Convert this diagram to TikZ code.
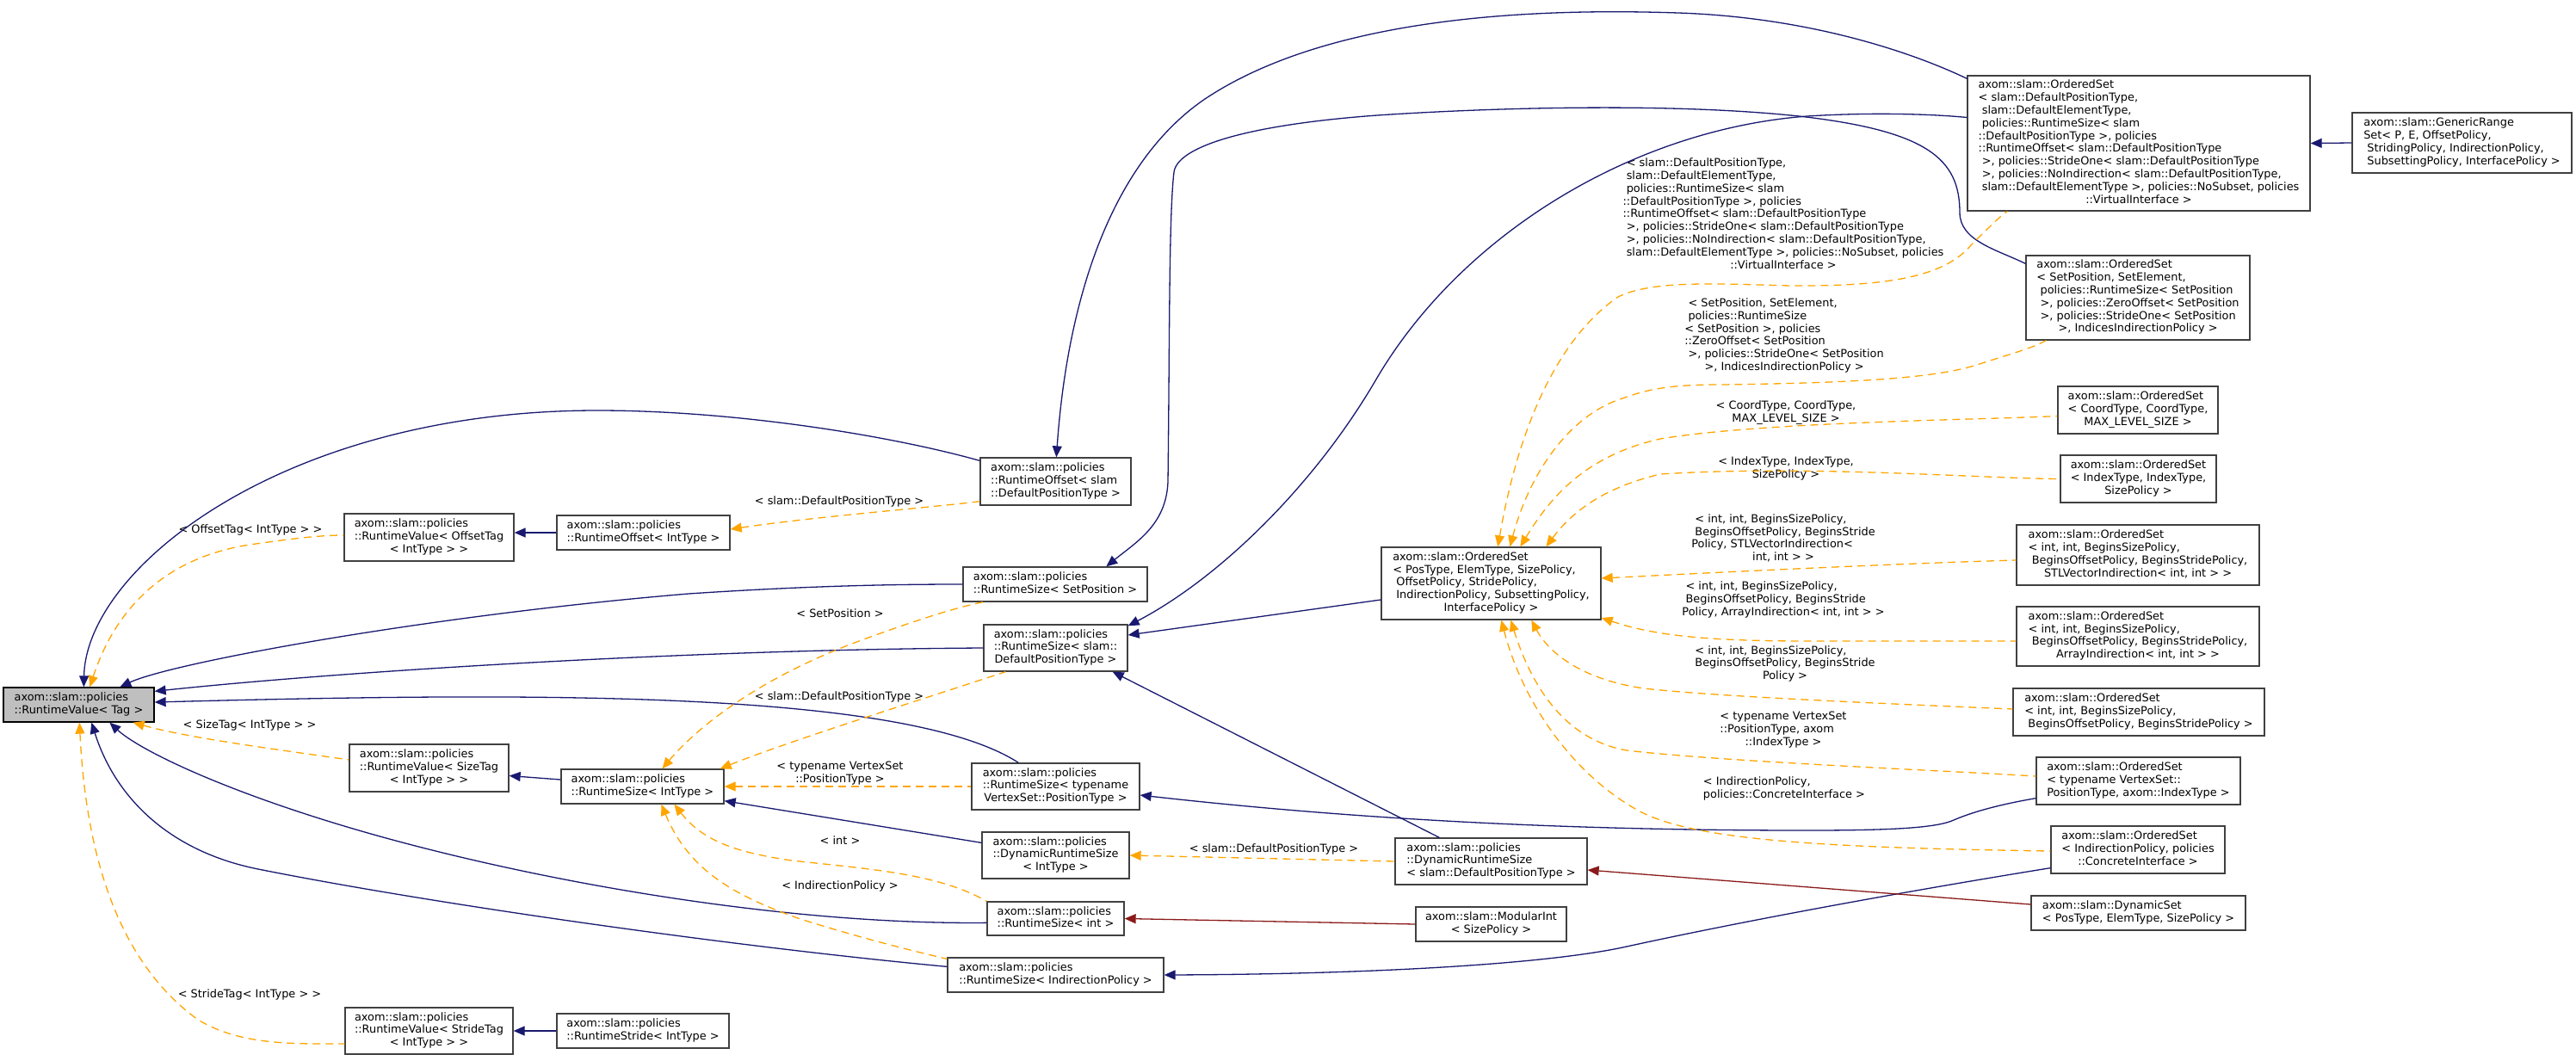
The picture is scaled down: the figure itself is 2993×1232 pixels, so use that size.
\documentclass[tikz,border=0pt]{standalone}
\usepackage{fontspec}
\setmainfont{DejaVu Sans}
\usetikzlibrary{arrows.meta,calc}
\definecolor{pubblue}{HTML}{191970}
\definecolor{tmplorange}{HTML}{FFA500}
\definecolor{protred}{HTML}{8B1A1A}
\definecolor{focusgray}{HTML}{BFBFBF}
\definecolor{nodeborder}{HTML}{404040}
\newcommand{\dvfont}{\fontsize{12.9pt}{14.8pt}\selectfont}
\newcommand{\gvtext}[2]{\begin{tabular}{@{}l@{}}#1\multicolumn{1}{@{}c@{}}{#2}\end{tabular}}
\newcommand{\lsp}{\hspace*{0.32em}}
\begin{document}
\begin{tikzpicture}[x=1pt,y=-1pt,
  cls/.style={draw=nodeborder, line width=1.3pt, fill=white, inner sep=0pt, font=\dvfont},
  focus/.style={cls, draw=black, fill=focusgray},
  lbl/.style={inner sep=0pt, font=\dvfont},
  pub/.style={draw=pubblue, line width=1.3pt, arrows={Triangle[length=13pt,width=11pt]-}},
  prot/.style={draw=protred, line width=1.3pt, arrows={Triangle[length=13pt,width=11pt]-}},
  tmpl/.style={draw=tmplorange, line width=1.3pt, dash pattern=on 9pt off 6pt, arrows={Triangle[length=13pt,width=11pt]-}},
]
\useasboundingbox (0,0) rectangle (2993,1232);
\fill[white] (0,0) rectangle (2993,1232);

% ---------------- nodes ----------------
\node[focus, minimum width=175pt, minimum height=40pt] (rvtag) at (91.5,819)
  {\gvtext{axom::slam::policies\\}{::RuntimeValue< Tag >}};
\node[cls, minimum width=197pt, minimum height=55pt] (rvoff) at (498.5,624.5)
  {\gvtext{axom::slam::policies\\::RuntimeValue< OffsetTag\\}{< IntType > >}};
\node[cls, minimum width=201pt, minimum height=40pt] (rtoffint) at (747.5,619)
  {\gvtext{axom::slam::policies\\}{::RuntimeOffset< IntType >}};
\node[cls, minimum width=185pt, minimum height=55pt] (rvsize) at (498.5,892.5)
  {\gvtext{axom::slam::policies\\::RuntimeValue< SizeTag\\}{< IntType > >}};
\node[cls, minimum width=189pt, minimum height=40pt] (rtsizeint) at (746.5,914)
  {\gvtext{axom::slam::policies\\}{::RuntimeSize< IntType >}};
\node[cls, minimum width=195pt, minimum height=54pt] (rvstride) at (498.5,1198)
  {\gvtext{axom::slam::policies\\::RuntimeValue< StrideTag\\}{< IntType > >}};
\node[cls, minimum width=200pt, minimum height=40pt] (rtstride) at (747,1198)
  {\gvtext{axom::slam::policies\\}{::RuntimeStride< IntType >}};

\node[cls, minimum width=175pt, minimum height=55pt] (rtoffdpt) at (1226.5,559.5)
  {\gvtext{axom::slam::policies\\::RuntimeOffset< slam\\}{::DefaultPositionType >}};
\node[cls, minimum width=214pt, minimum height=40pt] (rtsizesp) at (1226,679)
  {\gvtext{axom::slam::policies\\}{::RuntimeSize< SetPosition >}};
\node[cls, minimum width=167pt, minimum height=54pt] (rtsizedpt) at (1226.5,753)
  {\gvtext{axom::slam::policies\\::RuntimeSize< slam::\\}{DefaultPositionType >}};
\node[cls, minimum width=195pt, minimum height=54pt] (rtsizevs) at (1226.5,914)
  {\gvtext{axom::slam::policies\\::RuntimeSize< typename\\}{VertexSet::PositionType >}};
\node[cls, minimum width=171pt, minimum height=54pt] (drsint) at (1226.5,994)
  {\gvtext{axom::slam::policies\\::DynamicRuntimeSize\\}{< IntType >}};
\node[cls, minimum width=159pt, minimum height=39pt] (rtsizeint2) at (1226.5,1067.5)
  {\gvtext{axom::slam::policies\\}{::RuntimeSize< int >}};
\node[cls, minimum width=251pt, minimum height=40pt] (rtsizeip) at (1226.5,1133)
  {\gvtext{axom::slam::policies\\}{::RuntimeSize< IndirectionPolicy >}};

\node[cls, minimum width=255pt, minimum height=84pt] (osgen) at (1732.5,678)
  {\gvtext{axom::slam::OrderedSet\\< PosType, ElemType, SizePolicy,\\\lsp OffsetPolicy, StridePolicy,\\\lsp IndirectionPolicy, SubsettingPolicy,\\}{InterfacePolicy >}};
\node[cls, minimum width=223pt, minimum height=54pt] (drsdpt) at (1732.5,1001)
  {\gvtext{axom::slam::policies\\::DynamicRuntimeSize\\}{< slam::DefaultPositionType >}};
\node[cls, minimum width=175pt, minimum height=40pt] (modint) at (1732.5,1074)
  {\gvtext{axom::slam::ModularInt\\}{< SizePolicy >}};

\node[cls, minimum width=398pt, minimum height=157pt] (osbig) at (2485,166.5)
  {\gvtext{axom::slam::OrderedSet\\< slam::DefaultPositionType,\\\lsp slam::DefaultElementType,\\\lsp policies::RuntimeSize< slam\\::DefaultPositionType >, policies\\::RuntimeOffset< slam::DefaultPositionType\\\lsp >, policies::StrideOne< slam::DefaultPositionType\\\lsp >, policies::NoIndirection< slam::DefaultPositionType,\\\lsp slam::DefaultElementType >, policies::NoSubset, policies\\}{::VirtualInterface >}};
\node[cls, minimum width=260pt, minimum height=98pt] (osset) at (2484,346)
  {\gvtext{axom::slam::OrderedSet\\< SetPosition, SetElement,\\\lsp policies::RuntimeSize< SetPosition\\\lsp >, policies::ZeroOffset< SetPosition\\\lsp >, policies::StrideOne< SetPosition\\}{>, IndicesIndirectionPolicy >}};
\node[cls, minimum width=255pt, minimum height=70pt] (grs) at (2860.5,166)
  {\gvtext{axom::slam::GenericRange\\Set< P, E, OffsetPolicy,\\\lsp StridingPolicy, IndirectionPolicy,\\}{\lsp SubsettingPolicy, InterfacePolicy >}};
\node[cls, minimum width=186pt, minimum height=55pt] (oscoord) at (2484,476.5)
  {\gvtext{axom::slam::OrderedSet\\< CoordType, CoordType,\\}{MAX\_LEVEL\_SIZE >}};
\node[cls, minimum width=181pt, minimum height=55pt] (osindex) at (2484.5,556.5)
  {\gvtext{axom::slam::OrderedSet\\< IndexType, IndexType,\\}{SizePolicy >}};
\node[cls, minimum width=282pt, minimum height=70pt] (osstl) at (2484,645)
  {\gvtext{axom::slam::OrderedSet\\< int, int, BeginsSizePolicy,\\\lsp BeginsOffsetPolicy, BeginsStridePolicy,\\}{STLVectorIndirection< int, int > >}};
\node[cls, minimum width=282pt, minimum height=69pt] (osarr) at (2484,739.5)
  {\gvtext{axom::slam::OrderedSet\\< int, int, BeginsSizePolicy,\\\lsp BeginsOffsetPolicy, BeginsStridePolicy,\\}{ArrayIndirection< int, int > >}};
\node[cls, minimum width=292pt, minimum height=55pt] (osbeg) at (2485,827.5)
  {\gvtext{axom::slam::OrderedSet\\< int, int, BeginsSizePolicy,\\}{\lsp BeginsOffsetPolicy, BeginsStridePolicy >}};
\node[cls, minimum width=237pt, minimum height=55pt] (osvs) at (2484.5,907.5)
  {\gvtext{axom::slam::OrderedSet\\< typename VertexSet::\\}{PositionType, axom::IndexType >}};
\node[cls, minimum width=202pt, minimum height=55pt] (osind) at (2484,987.5)
  {\gvtext{axom::slam::OrderedSet\\< IndirectionPolicy, policies\\}{::ConcreteInterface >}};
\node[cls, minimum width=249pt, minimum height=40pt] (dynset) at (2484.5,1061)
  {\gvtext{axom::slam::DynamicSet\\}{< PosType, ElemType, SizePolicy >}};

% ---------------- edge labels ----------------
\node[lbl] (lab1) at (291,617) {\gvtext{}{< OffsetTag< IntType > >}};
\node[lbl] (lab2) at (290,844) {\gvtext{}{< SizeTag< IntType > >}};
\node[lbl] (lab3) at (290,1157) {\gvtext{}{< StrideTag< IntType > >}};
\node[lbl] (lab4) at (975,584) {\gvtext{}{< slam::DefaultPositionType >}};
\node[lbl] (lab5) at (976,715) {\gvtext{}{< SetPosition >}};
\node[lbl] (lab6) at (975,811) {\gvtext{}{< slam::DefaultPositionType >}};
\node[lbl] (lab7) at (976,899) {\gvtext{< typename VertexSet\\}{::PositionType >}};
\node[lbl] (lab8) at (976,979) {\gvtext{}{< int >}};
\node[lbl] (lab9) at (976,1031) {\gvtext{}{< IndirectionPolicy >}};
\node[lbl] (lab10) at (1480,988) {\gvtext{}{< slam::DefaultPositionType >}};
\node[lbl] (lab11) at (2072,250)
  {\gvtext{\lsp< slam::DefaultPositionType,\\\lsp slam::DefaultElementType,\\\lsp policies::RuntimeSize< slam\\::DefaultPositionType >, policies\\::RuntimeOffset< slam::DefaultPositionType\\\lsp >, policies::StrideOne< slam::DefaultPositionType\\\lsp >, policies::NoIndirection< slam::DefaultPositionType,\\\lsp slam::DefaultElementType >, policies::NoSubset, policies\\}{::VirtualInterface >}};
\node[lbl] (lab12) at (2073,390.5)
  {\gvtext{\lsp< SetPosition, SetElement,\\\lsp policies::RuntimeSize\\< SetPosition >, policies\\::ZeroOffset< SetPosition\\\lsp >, policies::StrideOne< SetPosition\\}{>, IndicesIndirectionPolicy >}};
\node[lbl] (lab13) at (2075,480) {\gvtext{< CoordType, CoordType,\\}{MAX\_LEVEL\_SIZE >}};
\node[lbl] (lab14) at (2075,545) {\gvtext{< IndexType, IndexType,\\}{SizePolicy >}};
\node[lbl] (lab15) at (2072,626.5)
  {\gvtext{\lsp< int, int, BeginsSizePolicy,\\\lsp BeginsOffsetPolicy, BeginsStride\\Policy, STLVectorIndirection<\\}{int, int > >}};
\node[lbl] (lab16) at (2072,697.5)
  {\gvtext{\lsp< int, int, BeginsSizePolicy,\\\lsp BeginsOffsetPolicy, BeginsStride\\}{Policy, ArrayIndirection< int, int > >}};
\node[lbl] (lab17) at (2074,772)
  {\gvtext{< int, int, BeginsSizePolicy,\\BeginsOffsetPolicy, BeginsStride\\}{Policy >}};
\node[lbl] (lab18) at (2072,848.5)
  {\gvtext{< typename VertexSet\\::PositionType, axom\\}{::IndexType >}};
\node[lbl] (lab19) at (2073,917)
  {\gvtext{< IndirectionPolicy,\\}{policies::ConcreteInterface >}};

% ---------------- public inheritance (blue) ----------------
\draw[pub] ($(rvtag.north west)+(94,0)$) .. controls (100,660) and (330,477) .. (694,477)
  .. controls (850,477) and (1030,505) .. ($(rtoffdpt.north west)+(0,4)$);
\draw[pub] ($(rvtag.north west)+(136,0)$) .. controls (200,770) and (500,715) .. (800,690)
  .. controls (950,680) and (1050,679) .. (rtsizesp.west);
\draw[pub] ($(rvtag.north east)+(0,5)$) .. controls (400,780) and (800,755) .. (rtsizedpt.west);
\draw[pub] ($(rvtag.east)+(0,-3)$) .. controls (600,805) and (1050,800) .. ($(rtsizevs.north west)+(55,0)$);
\draw[pub] ($(rvtag.south west)+(124,0)$) .. controls (160,870) and (250,915) .. (400,960)
  .. controls (600,1020) and (900,1075) .. ($(rtsizeint2.north west)+(0,25)$);
\draw[pub] ($(rvtag.south west)+(103,0)$) .. controls (135,930) and (200,990) .. (300,1010)
  .. controls (500,1050) and (850,1100) .. ($(rtsizeip.north west)+(0,11)$);

\draw[pub] (rtoffint.west -| rvoff.east) -- (rtoffint.west);
\draw[pub] ($(rvsize.east)+(0,9)$) -- ($(rtsizeint.west)+(0,-8)$);
\draw[pub] (rvstride.east) -- (rtstride.west);

\draw[pub] ($(rtoffdpt.north west)+(89,0)$) .. controls (1240,350) and (1290,190) .. (1400,115)
  .. controls (1550,15) and (1800,10) .. (1950,15)
  .. controls (2100,20) and (2220,60) .. ($(osbig.north west)+(0,4)$);
\draw[pub] ($(rtsizesp.north west)+(167,0)$) .. controls (1320,630) and (1355,610) .. (1357,560)
  .. controls (1359,400) and (1358,250) .. (1364,200)
  .. controls (1368,170) and (1450,145) .. (1600,134)
  .. controls (1750,124) and (1950,120) .. (2090,135)
  .. controls (2240,152) and (2277,185) .. (2277,247)
  .. controls (2277,280) and (2320,290) .. ($(osset.north west)+(0,10)$);
\draw[pub] ($(rtsizedpt.north east)+(0,2)$) .. controls (1420,670) and (1530,560) .. (1600,439)
  .. controls (1700,270) and (1900,150) .. (2100,135)
  .. controls (2180,130) and (2250,133) .. ($(osbig.west)+(0,-30)$);
\draw[pub] ($(rtsizedpt.east)+(0,-15)$) -- ($(osgen.west)+(0,19)$);
\draw[pub] ($(rtsizedpt.south east)+(-18,0)$) -- ($(drsdpt.north west)+(52,0)$);
\draw[pub] ($(rtsizeint.south east)+(0,-4)$) -- ($(drsint.north west)+(0,13)$);
\draw[pub] ($(rtsizevs.east)+(0,10)$) .. controls (1600,955) and (1850,965) .. (2100,965)
  .. controls (2200,965) and (2250,962) .. (2270,953)
  .. controls (2300,940) and (2340,932) .. ($(osvs.south west)+(0,-8)$);
\draw[pub] (rtsizeip.east) .. controls (1600,1132) and (1800,1120) .. (1890,1100)
  .. controls (2050,1065) and (2250,1030) .. ($(osind.south west)+(0,-7)$);
\draw[pub] (osbig.east) -- (grs.west);

% ---------------- protected inheritance (red) ----------------
\draw[prot] (rtsizeint2.east) -- (modint.west);
\draw[prot] ($(drsdpt.east)+(0,10)$) -- ($(dynset.west)+(0,-10)$);

% ---------------- template instances (orange dashed) ----------------
\draw[tmpl] ($(rvtag.north west)+(101,0)$) .. controls (130,720) and (180,650) .. (290,633)
  .. controls (340,626) and (370,622) .. ($(rvoff.west)+(0,-2.5)$);
\draw[tmpl] ($(rvtag.south east)+(-25,0)$) .. controls (220,858) and (330,872) .. ($(rvsize.west)+(0,-9.5)$);
\draw[tmpl] ($(rvtag.south west)+(89,0)$) .. controls (100,1000) and (140,1120) .. (230,1185)
  .. controls (280,1215) and (340,1213) .. ($(rvstride.west)+(0,15)$);

\draw[tmpl] ($(rtoffint.east)+(0,-4)$) .. controls (950,600) and (1080,590) .. ($(rtoffdpt.south west)+(0,-5)$);
\draw[tmpl] ($(rtsizeint.north west)+(118,0)$) .. controls (810,845) and (880,790) .. (990,748)
  .. controls (1060,722) and (1110,706) .. ($(rtsizesp.south west)+(24,0)$);
\draw[tmpl] ($(rtsizeint.north east)+(-5,0)$) .. controls (920,860) and (1080,810) .. ($(rtsizedpt.south west)+(26,0)$);
\draw[tmpl] (rtsizeint.east) -- (rtsizevs.west);
\draw[tmpl] ($(rtsizeint.south west)+(132,0)$) .. controls (815,975) and (850,990) .. (920,1000)
  .. controls (1010,1010) and (1090,1015) .. (rtsizeint2.north west);
\draw[tmpl] ($(rtsizeint.south west)+(117,0)$) .. controls (800,1010) and (850,1040) .. (930,1068)
  .. controls (1000,1090) and (1060,1105) .. ($(rtsizeip.north west)+(0,2)$);
\draw[tmpl] (drsint.east) -- (drsdpt.west);

\draw[tmpl] ($(osgen.north west)+(136,0)$) .. controls (1760,520) and (1800,400) .. (1880,345)
  .. controls (1920,325) and (2000,330) .. (2080,332)
  .. controls (2200,333) and (2260,320) .. (2290,285)
  .. controls (2310,265) and (2325,250) .. ($(osbig.south west)+(47,0)$);
\draw[tmpl] ($(osgen.north west)+(150,0)$) .. controls (1780,540) and (1830,480) .. (1885,463)
  .. controls (1920,450) and (1950,447) .. (2000,447)
  .. controls (2150,445) and (2250,440) .. (2300,423)
  .. controls (2340,410) and (2360,405) .. ($(osset.south west)+(24,0)$);
\draw[tmpl] ($(osgen.north west)+(162,0)$) .. controls (1800,580) and (1840,530) .. (1929,510)
  .. controls (2050,490) and (2300,488) .. ($(oscoord.west)+(0,7)$);
\draw[tmpl] ($(osgen.north west)+(192,0)$) .. controls (1830,590) and (1870,565) .. (1929,551)
  .. controls (2100,540) and (2300,556) .. (osindex.west);
\draw[tmpl] ($(osgen.east)+(0,-6)$) .. controls (2000,665) and (2200,655) .. ($(osstl.west)+(0,6)$);
\draw[tmpl] ($(osgen.east)+(0,40)$) .. controls (1920,738) and (1980,745) .. (2100,745)
  -- ($(osarr.west)+(0,5.5)$);
\draw[tmpl] ($(osgen.south west)+(175,0)$) .. controls (1800,760) and (1840,790) .. (1910,800)
  .. controls (2000,810) and (2200,818) .. ($(osbeg.west)+(0,-3.5)$);
\draw[tmpl] ($(osgen.south west)+(151,0)$) .. controls (1780,800) and (1820,860) .. (1890,872)
  .. controls (2000,885) and (2250,895) .. ($(osvs.west)+(0,-5.5)$);
\draw[tmpl] ($(osgen.south west)+(140,0)$) .. controls (1770,820) and (1830,900) .. (1900,940)
  .. controls (1960,975) and (2100,985) .. ($(osind.west)+(0,1.5)$);
\end{tikzpicture}
\end{document}
